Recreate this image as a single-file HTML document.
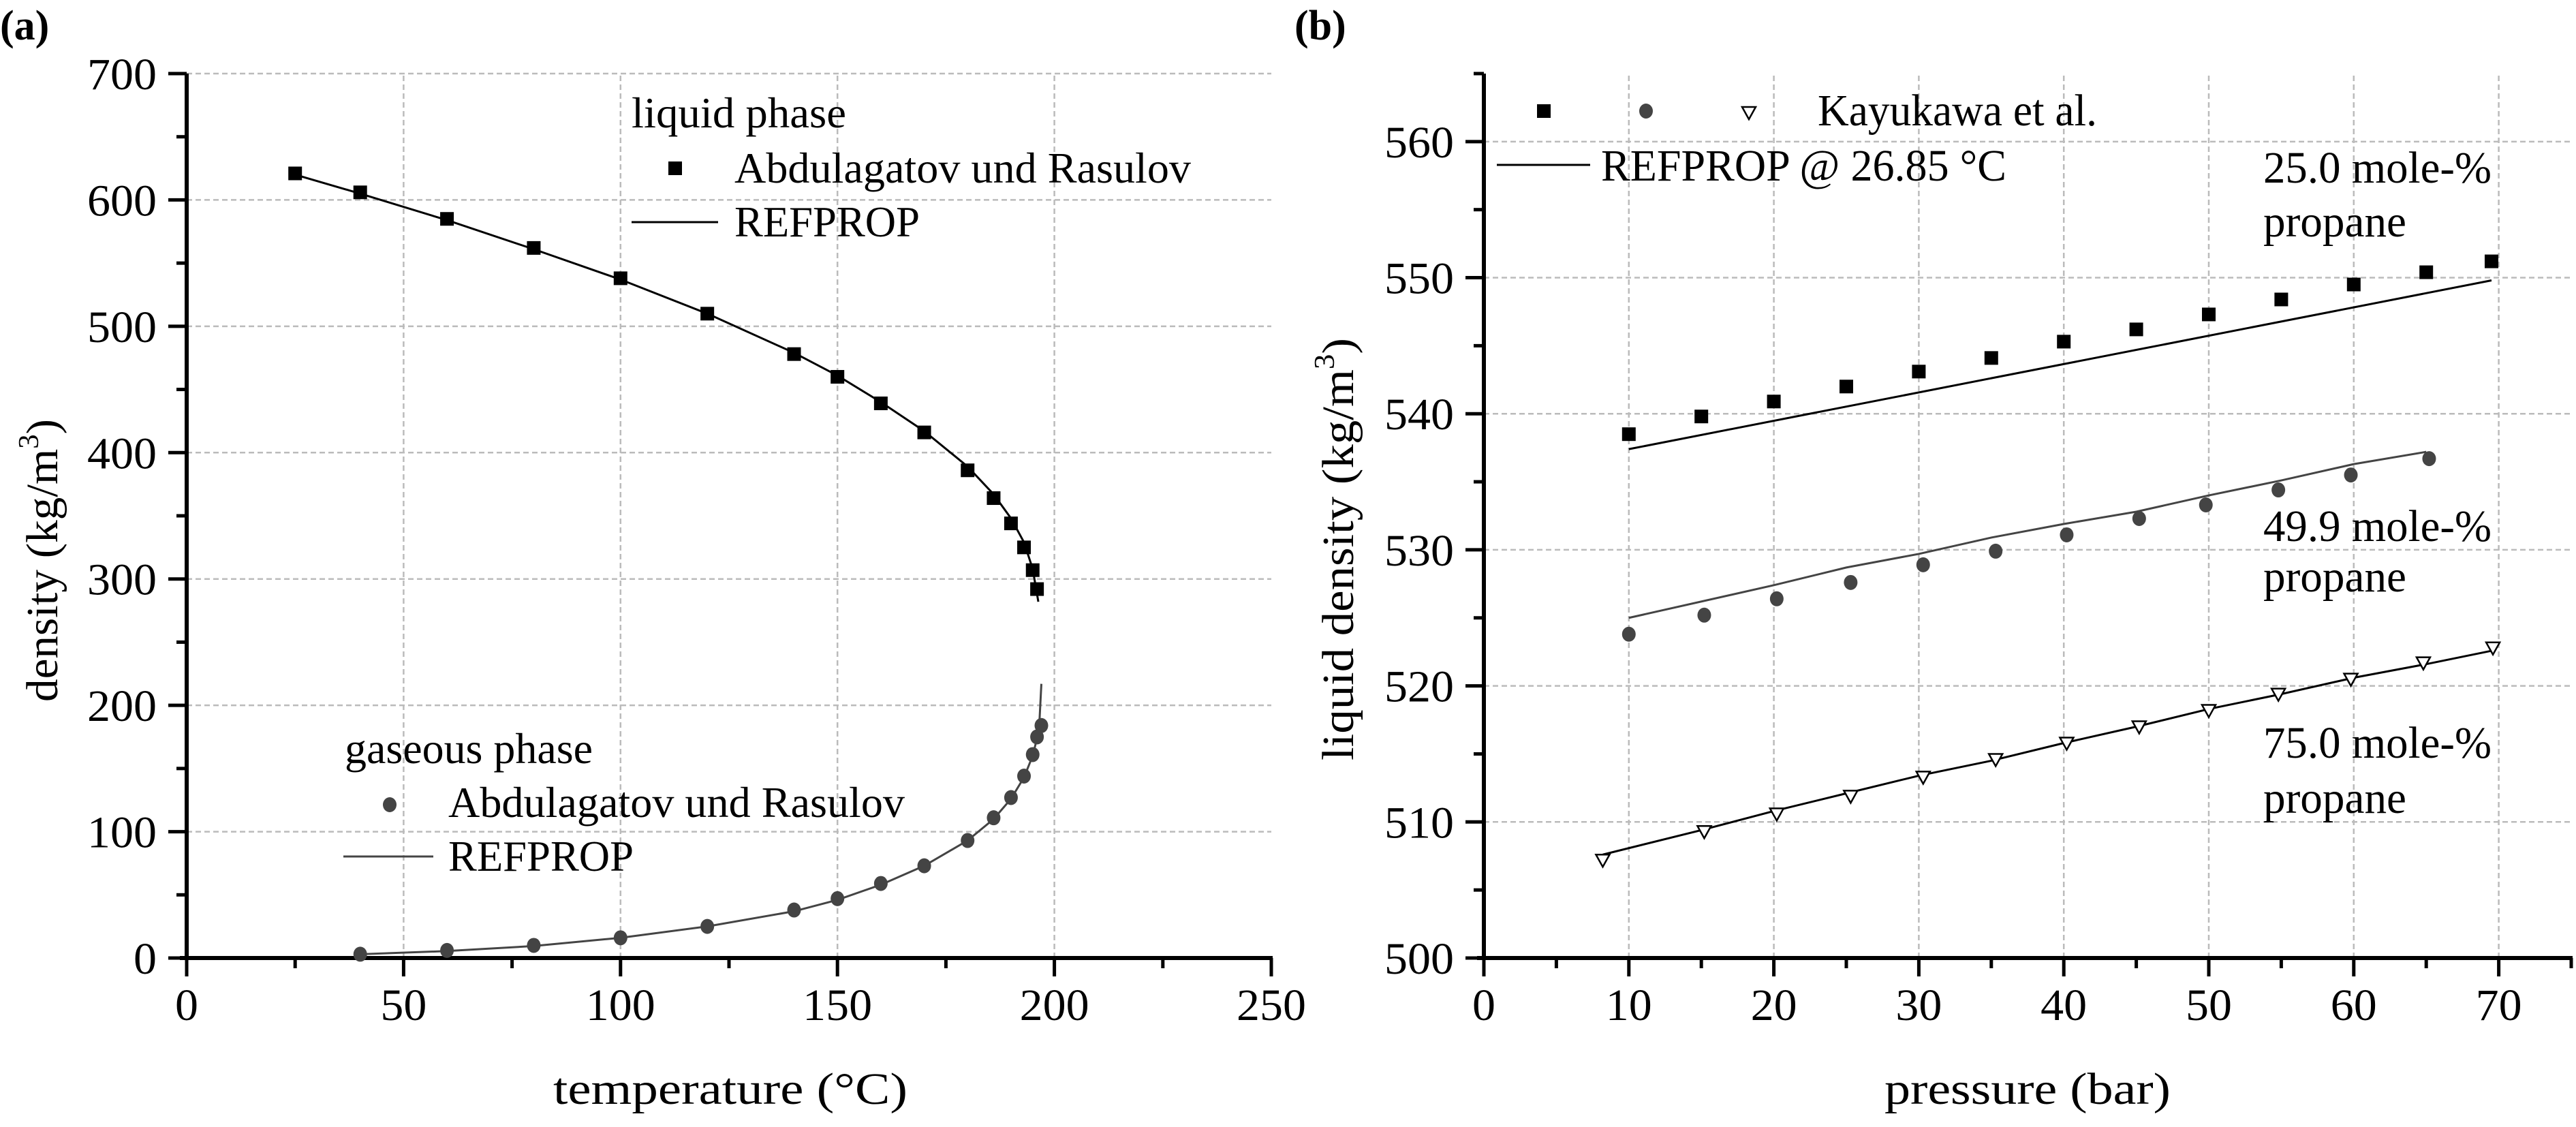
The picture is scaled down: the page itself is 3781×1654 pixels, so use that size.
<!DOCTYPE html>
<html><head><meta charset="utf-8"><style>
html,body{margin:0;padding:0;background:#fff;}
svg, svg text{font-family:"Liberation Serif",serif;}
</style></head><body>
<svg id="fig" width="3781" height="1649" viewBox="0 0 3781 1649" xmlns="http://www.w3.org/2000/svg" font-family="Liberation Serif, serif">
<rect width="3781" height="1649" fill="#fff"/>
<g id="pa"></g>
<g id="pb"></g>
</svg>
<script>
// Panel (a) data
const aLiqT=[25,40,60,80,100,120,140,150,160,170,180,186,190,193,195,196];
const aLiqD=[621,606,585,562,538,510,478,460,439,416,386,364,344,325,307,292];
const aLiqLineT=[25,40,60,80,100,120,140,150,160,170,180,186,190,193,195,196.3];
const aLiqLineD=[620,605,584,561,537,510,479,461,440,417,389,367,348,329,308,282];
const aGasT=[40,60,80,100,120,140,150,160,170,180,186,190,193,195,196,197];
const aGasD=[3,6,10,16,25,38,47,59,73,93,111,127,144,161,175,184];
const aGasLineT=[40,60,80,100,120,140,150,160,170,180,186,190,193,195,196,196.6,197];
const aGasLineD=[3,5.5,9.5,16,25,37,46,58,73,93,110,126,143,160,174,190,217];
const aXTicks=[0,50,100,150,200,250];
const aYTicks=[0,100,200,300,400,500,600,700];
// Panel (b) data
const b25P=[10,15,20,25,30,35,40,45,50,55,60,65,69.5];
const b25D=[538.5,539.8,540.9,542.0,543.1,544.1,545.3,546.2,547.3,548.4,549.5,550.4,551.2];
const b25LineP=[10,69.5];
const b25LineD=[537.4,549.8];
const b50P=[10,15.2,20.2,25.3,30.3,35.3,40.2,45.2,49.8,54.8,59.8,65.2];
const b50D=[523.8,525.2,526.4,527.6,528.9,529.9,531.1,532.3,533.3,534.4,535.5,536.7];
const b50LineP=[10,20,25,30,35,40,45,50,55,60,65];
const b50LineD=[525.0,527.4,528.7,529.7,530.9,531.9,532.8,534.0,535.1,536.3,537.2];
const b75P=[8.2,15.2,20.2,25.3,30.3,35.3,40.2,45.2,50,54.8,59.8,64.8,69.6];
const b75D=[507.2,509.3,510.6,511.9,513.3,514.6,515.8,517.0,518.2,519.4,520.5,521.7,522.8];
const b75LineP=[8.2,15,20,25,30,35,40,45,50,55,60,65,69.6];
const b75LineD=[507.6,509.4,510.8,512.1,513.4,514.5,515.8,517.0,518.3,519.4,520.6,521.6,522.6];
const bXTicks=[0,10,20,30,40,50,60,70];
const bYTicks=[500,510,520,530,540,550,560];

const NS="http://www.w3.org/2000/svg";
const FF='Liberation Serif';
function mk(parent,tag,attrs,txt){const e=document.createElementNS(NS,tag);for(const k in attrs)e.setAttribute(k,attrs[k]);if(tag==='text')e.setAttribute('font-family',FF);if(txt!==undefined)e.textContent=txt;parent.appendChild(e);return e;}

const ax=v=>274+v*(1866-274)/250, ay=v=>1406-v*(1406-108)/700;
const bx=v=>2178+v*21.28, by=v=>1406-(v-500)*(1406-108)/65;

function txt(g,x,y,s,size,name,align,len,rot){
  let x0=x;
  if(len&&align==='middle')x0=x-len/2;
  if(len&&align==='end')x0=x-len;
  const a={'font-size':size};
  if(rot){a.x=0;a.y=0;a.transform='translate('+x+','+y+') rotate('+rot+')';if(len)a.x=-len/2;}
  else{a.x=x0;a.y=y;}
  if(len){a.textLength=len;a.lengthAdjust='spacingAndGlyphs';}
  const t=mk(g,'text',a,s);
  
  
  return t;
}

function axes(g,xs,ys,xT,yT,xMin,xMax,yMin,yMax,xMinor,yMinor){
  const x0=xs(xMin),x1=xs(xMax),y0=ys(yMin),y1=ys(yMax);
  xT.forEach(v=>{if(v>xMin&&v<xMax){const l=mk(g,'line',{x1:xs(v),x2:xs(v),y1:y0,y2:y1,stroke:'#bbb','stroke-width':2.5,'stroke-dasharray':'8,5'});}});
  yT.forEach(v=>{if(v>yMin&&v<=yMax){const l=mk(g,'line',{x1:x0,x2:x1,y1:ys(v),y2:ys(v),stroke:'#bbb','stroke-width':2.5,'stroke-dasharray':'8,5'});}});
  const xa=mk(g,'line',{x1:x0-10,x2:x1+2,y1:y0,y2:y0,stroke:'#000','stroke-width':6});
  
  const ya=mk(g,'line',{x1:x0,x2:x0,y1:y0+3,y2:y1,stroke:'#000','stroke-width':6});
  
  for(let v=xMin;v<=xMax+1e-9;v+=xMinor){const maj=xT.some(t=>Math.abs(t-v)<1e-6);mk(g,'line',{x1:xs(v),x2:xs(v),y1:y0,y2:y0+(maj?27:15),stroke:'#000','stroke-width':5});}
  for(let v=yMin;v<=yMax+1e-9;v+=yMinor){const maj=yT.some(t=>Math.abs(t-v)<1e-6);mk(g,'line',{x1:x0,x2:x0-(maj?27:15),y1:ys(v),y2:ys(v),stroke:'#000','stroke-width':5});}
  xT.forEach(v=>{const s=String(v);txt(g,xs(v),1497,s,66,'x-tick-label','middle',s.length*34);});
  yT.forEach(v=>{const s=String(v);txt(g,x0-44,ys(v)+23,s,66,'y-tick-label','end',s.length*34);});
}
function line(g,xs,ys,X,Y,col,w,name){const p=mk(g,'polyline',{points:X.map((v,i)=>xs(v)+','+ys(Y[i])).join(' '),fill:'none',stroke:col,'stroke-width':w});}
function sq(g,x,y,name){const r=mk(g,'rect',{x:x-10,y:y-10,width:20,height:20,fill:'#000'});}
function ci(g,x,y,name){const c=mk(g,'ellipse',{cx:x,cy:y,rx:10,ry:11,fill:'#444'});}
function tri(g,x,y,name){const t=mk(g,'polygon',{points:(x-10)+','+(y-8)+' '+(x+10)+','+(y-8)+' '+x+','+(y+10),fill:'#fff',stroke:'#000','stroke-width':2.5});}

// Panel a
const A=document.getElementById('pa');
axes(A,ax,ay,aXTicks,aYTicks,0,250,0,700,25,50);
line(A,ax,ay,aLiqLineT,aLiqLineD,'#000',3,'liquid-refprop-line');
line(A,ax,ay,aGasLineT,aGasLineD,'#444',3,'gas-refprop-line');
aLiqT.forEach((v,i)=>sq(A,ax(v),ay(aLiqD[i]),'liquid-point'));
aGasT.forEach((v,i)=>ci(A,ax(v),ay(aGasD[i]),'gas-point'));
txt(A,0,58,'(a)',62,'panel-a-label').setAttribute('font-weight','bold');
const yt=txt(A,84,800,'density (kg/m',66,'y-axis-title','middle',null,-90);
yt.setAttribute('x',-230);
yt.setAttribute('textLength',415);
yt.setAttribute('lengthAdjust','spacingAndGlyphs');
mk(yt,'tspan',{'font-size':42,dy:-28},'3');mk(yt,'tspan',{dy:28},')');
txt(A,1072,1620,'temperature (°C)',66,'x-axis-title','middle',520);
txt(A,927,187,'liquid phase',64,'legend-liquid-title',null,315);
sq(A,991,247,'legend-liquid-marker');
txt(A,1078,268,'Abdulagatov und Rasulov',64,'legend-liquid-data',null,670);
mk(A,'line',{x1:927,x2:1054,y1:326,y2:326,stroke:'#000','stroke-width':3});
txt(A,1078,347,'REFPROP',64,'legend-liquid-refprop',null,272);
txt(A,506,1120,'gaseous phase',64,'legend-gas-title',null,364);
ci(A,572,1181,'legend-gas-marker');
txt(A,658,1199,'Abdulagatov und Rasulov',64,'legend-gas-data',null,670);
mk(A,'line',{x1:504,x2:636,y1:1257,y2:1257,stroke:'#444','stroke-width':3});
txt(A,658,1278,'REFPROP',64,'legend-gas-refprop',null,272);

// Panel b
const B=document.getElementById('pb');
axes(B,bx,by,bXTicks,bYTicks,0,75,500,565,5,5);
line(B,bx,by,b25LineP,b25LineD,'#000',3,'refprop-25-line');
line(B,bx,by,b50LineP,b50LineD,'#444',3,'refprop-50-line');
line(B,bx,by,b75LineP,b75LineD,'#000',3,'refprop-75-line');
b25P.forEach((v,i)=>sq(B,bx(v),by(b25D[i]),'point-25'));
b50P.forEach((v,i)=>ci(B,bx(v),by(b50D[i]),'point-50'));
b75P.forEach((v,i)=>tri(B,bx(v),by(b75D[i]),'point-75'));
txt(B,1900,58,'(b)',62,'panel-b-label').setAttribute('font-weight','bold');
const yt2=txt(B,1986,780,'liquid density (kg/m',66,'y-axis-title','middle',null,-90);
yt2.setAttribute('x',-336);
yt2.setAttribute('textLength',620);
yt2.setAttribute('lengthAdjust','spacingAndGlyphs');
mk(yt2,'tspan',{'font-size':42,dy:-28},'3');mk(yt2,'tspan',{dy:28},')');
txt(B,2976,1620,'pressure (bar)',66,'x-axis-title','middle',420);
sq(B,2266,163,'legend-marker-25');
ci(B,2416,163,'legend-marker-50');
tri(B,2567,165,'legend-marker-75');
txt(B,2668,184,'Kayukawa et al.',66,'legend-kayukawa',null,410);
mk(B,'line',{x1:2197,x2:2334,y1:242,y2:242,stroke:'#000','stroke-width':3});
txt(B,2350,265,'REFPROP @ 26.85 °C',66,'legend-refprop',null,595);
txt(B,3322,268,'25.0 mole-%',66,'annotation-25',null,335);
txt(B,3322,347,'propane',66,'annotation-25-propane',null,210);
txt(B,3322,794,'49.9 mole-%',66,'annotation-50',null,335);
txt(B,3322,868,'propane',66,'annotation-50-propane',null,210);
txt(B,3322,1112,'75.0 mole-%',66,'annotation-75',null,335);
txt(B,3322,1193,'propane',66,'annotation-75-propane',null,210);
</script>
</body></html>
